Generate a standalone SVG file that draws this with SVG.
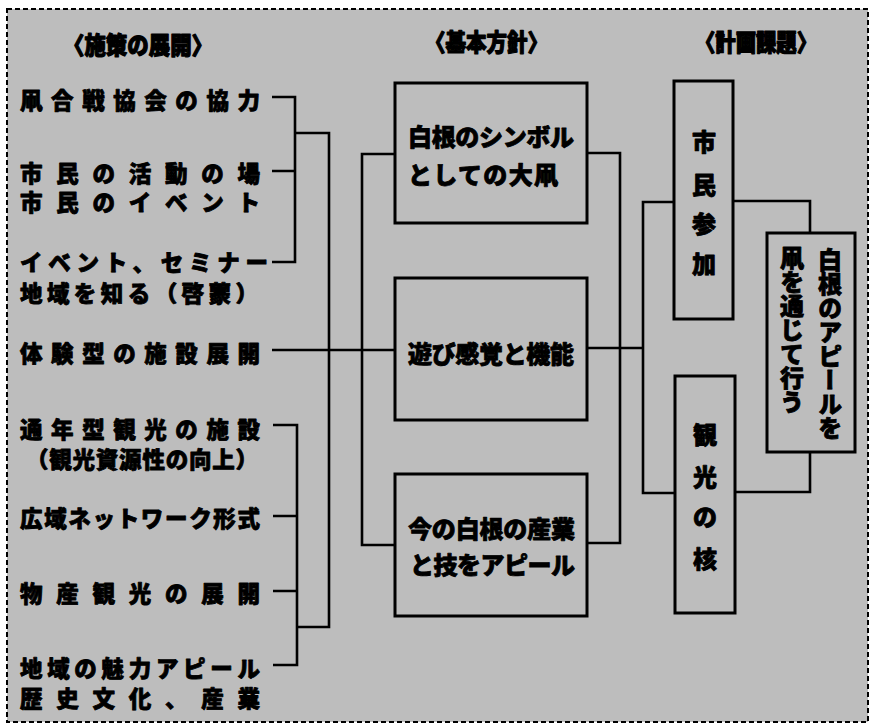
<svg xmlns="http://www.w3.org/2000/svg" width="870" height="727" viewBox="0 0 870 727">
<style>
.t{font-family:"Noto Sans CJK JP","Noto Sans CJK SC",sans-serif;font-weight:900;fill:#000;stroke:#000;stroke-width:0.8;stroke-linejoin:round;dominant-baseline:central}
.l{font-size:22.5px}
.c{font-size:24px}
.h{font-size:24px;stroke-width:1.2}
.v{font-size:24px;text-anchor:middle}
.box{fill:none;stroke:#000;stroke-width:3}
.ln{fill:none;stroke:#000;stroke-width:2.6}
</style>
<rect x="0" y="0" width="870" height="727" fill="#fff"/>
<rect x="7" y="9" width="861" height="713" fill="#bdbdbd" stroke="#000" stroke-width="2" stroke-dasharray="5,3"/>

<g id="headers">
<text class="t h" x="63" y="43" textLength="150" lengthAdjust="spacingAndGlyphs">〈施策の展開〉</text>
<text class="t h" x="425" y="40" textLength="123" lengthAdjust="spacingAndGlyphs">〈基本方針〉</text>
<text class="t h" x="695" y="40" textLength="122" lengthAdjust="spacingAndGlyphs">〈計画課題〉</text>
</g>

<g id="left-items">
<text class="t l" x="20" y="99" textLength="240" lengthAdjust="spacing">凧合戦協会の協力</text>
<text class="t l" x="20" y="172" textLength="240" lengthAdjust="spacing">市民の活動の場</text>
<text class="t l" x="20" y="201" textLength="240" lengthAdjust="spacing">市民のイベント</text>
<text class="t l" x="20" y="261" textLength="248" lengthAdjust="spacing">イベント、セミナー</text>
<text class="t l" x="20" y="292" textLength="238" lengthAdjust="spacing">地域を知る（啓蒙）</text>
<text class="t l" x="20" y="352" textLength="240" lengthAdjust="spacing">体験型の施設展開</text>
<text class="t l" x="20" y="428" textLength="240" lengthAdjust="spacing">通年型観光の施設</text>
<text class="t l" x="26" y="458" textLength="232" lengthAdjust="spacing">（観光資源性の向上）</text>
<text class="t l" x="20" y="517" textLength="240" lengthAdjust="spacing">広域ネットワーク形式</text>
<text class="t l" x="20" y="592" textLength="240" lengthAdjust="spacing">物産観光の展開</text>
<text class="t l" x="20" y="667" textLength="240" lengthAdjust="spacing">地域の魅力アピール</text>
<text class="t l" x="20" y="697" textLength="240" lengthAdjust="spacing">歴史文化、産業</text>
</g>

<g id="box-symbol">
<rect class="box" x="395" y="83" width="192" height="140"/>
<text class="t c" x="408" y="135" textLength="166" lengthAdjust="spacing">白根のシンボル</text>
<text class="t c" x="408" y="173" textLength="150" lengthAdjust="spacing">としての大凧</text>
</g>

<g id="box-play">
<rect class="box" x="395" y="278" width="192" height="142"/>
<text class="t c" x="408" y="352" textLength="166" lengthAdjust="spacing">遊び感覚と機能</text>
</g>

<g id="box-industry">
<rect class="box" x="395" y="474" width="192" height="142"/>
<text class="t c" x="408" y="527" textLength="167" lengthAdjust="spacing">今の白根の産業</text>
<text class="t c" x="410" y="563" textLength="165" lengthAdjust="spacing">と技をアピール</text>
</g>

<g id="box-citizen">
<rect class="box" x="674" y="81" width="59" height="238"/>
<text class="t v" x="704" y="140">市</text>
<text class="t v" x="704" y="183">民</text>
<text class="t v" x="704" y="222">参</text>
<text class="t v" x="704" y="262">加</text>
</g>

<g id="box-tourism">
<rect class="box" x="675" y="376" width="60" height="237"/>
<text class="t v" x="705" y="433">観</text>
<text class="t v" x="705" y="475">光</text>
<text class="t v" x="705" y="515">の</text>
<text class="t v" x="705" y="557">核</text>
</g>

<g id="box-appeal">
<rect class="box" x="767" y="233" width="88" height="219"/>
<text class="t" x="830" y="248" style="font-size:24px;writing-mode:vertical-rl;dominant-baseline:auto">白根のアピールを</text>
<text class="t" x="792" y="246" style="font-size:24px;writing-mode:vertical-rl;dominant-baseline:auto">凧を通じて行う</text>
</g>

<g id="connectors">
<path class="ln" d="M272,97H295V262H272M272,171H295M295,133H329V627H297M273,425H297V665H273M273,516H297M273,591H297"/>
<path class="ln" d="M272,350H395M395,154H362V545H395"/>
<path class="ln" d="M587,153H620V543H587M587,348H643M675,202H643V493H675"/>
<path class="ln" d="M733,201H810V233M810,452V492H735"/>
</g>
</svg>
